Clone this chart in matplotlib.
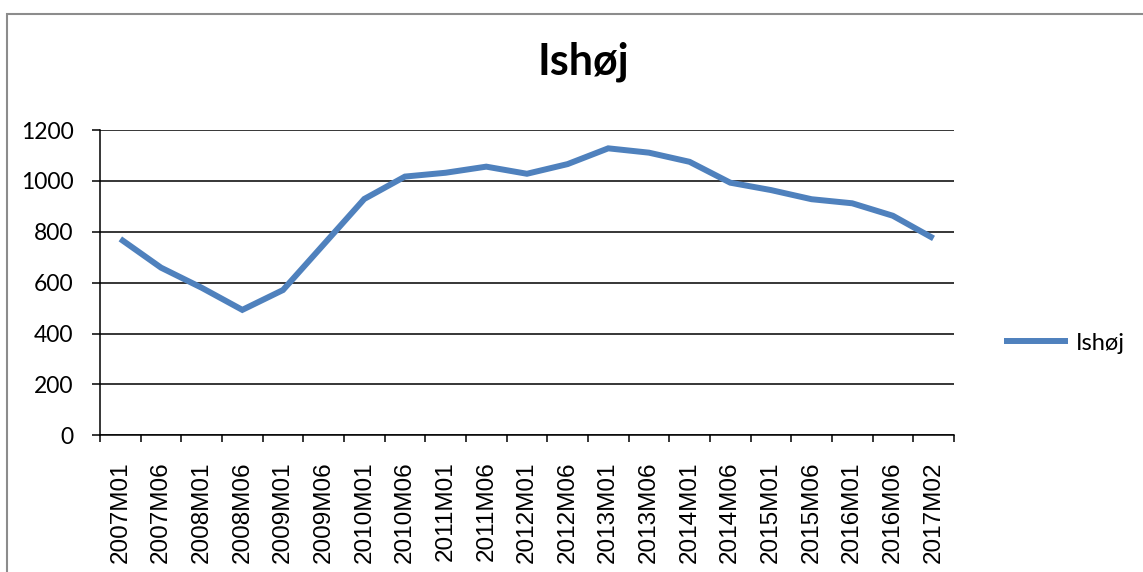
import numpy as np
import matplotlib.pyplot as plt
from matplotlib.patches import Rectangle

# data
months = ['2007M01', '2007M06', '2008M01', '2008M06', '2009M01', '2009M06',
          '2010M01', '2010M06', '2011M01', '2011M06', '2012M01', '2012M06',
          '2013M01', '2013M06', '2014M01', '2014M06', '2015M01', '2015M06',
          '2016M01', '2016M06', '2017M02']
ishoj = [772, 659, 580, 493, 571, 750, 929, 1017, 1032, 1056, 1028, 1066,
         1128, 1111, 1075, 993, 964, 928, 912, 863, 774]
yticks = [0, 200, 400, 600, 800, 1000, 1200]

title = 'Ishøj'
label = 'Ishøj'
blue = '#4F81BD'

fig = plt.figure(figsize=(11.43, 5.72), dpi=100)
ax = fig.add_axes([0.0875, 0.239, 0.747, 0.5337])

x = np.arange(len(months))
ax.plot(x, ishoj, color=blue, lw=4.3, label=label, solid_capstyle='butt',
        solid_joinstyle='miter', zorder=3)

ax.set_ylim(0, 1200)
ax.set_xlim(-0.5, len(months) - 0.5)
ax.set_yticks(yticks)
ax.set_yticklabels([str(v) for v in yticks], family='Lato', fontsize=16.5)
ax.grid(axis='y', color='black', lw=1.1)
ax.set_axisbelow(True)

# category ticks between labels, labels at category centers
ax.set_xticks(np.arange(-0.5, len(months)))
ax.set_xticklabels([])
ax.set_xticks(x, minor=True)
ax.set_xticklabels(months, minor=True, rotation=90, family='Liberation Sans',
                   fontsize=17.5)
ax.tick_params(axis='x', which='major', length=5, width=1.1, direction='out')
ax.tick_params(axis='x', which='minor', length=0, pad=19)
ax.tick_params(axis='y', length=6, width=1.1, pad=13)

for s in ['top', 'right']:
    ax.spines[s].set_visible(False)
for s in ['left', 'bottom']:
    ax.spines[s].set_linewidth(1.1)
    ax.spines[s].set_color('black')

fig.text(583 / 1143, 1 - 75 / 572, title, ha='center', va='baseline',
         family='Lato', fontweight='bold', fontsize=31)

fig.legend(loc='center left', bbox_to_anchor=(1004 / 1143, 1 - 343 / 572),
           frameon=False, prop={'family': 'Lato', 'size': 17},
           handlelength=2.7, handletextpad=0.34, borderpad=0, borderaxespad=0)

# chart area border (cropped on the right and bottom)
fig.patches.append(Rectangle((7 / 1143, -0.05), 1.1, 0.975 + 0.05,
                             transform=fig.transFigure, fill=False,
                             edgecolor='#8c8c8c', lw=1.5))

fig.savefig('out.png', dpi=100)
